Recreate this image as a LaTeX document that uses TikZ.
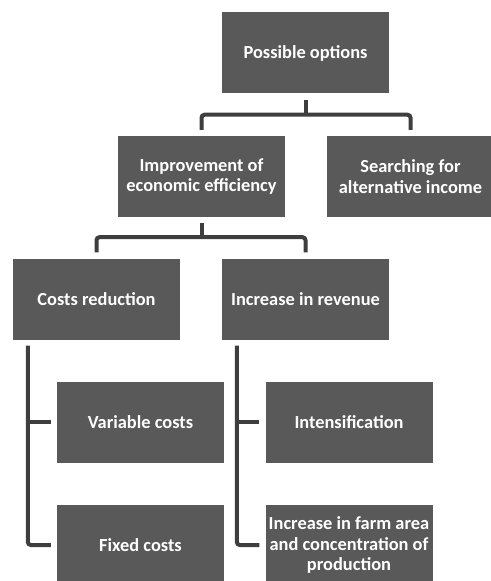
\documentclass[tikz,border=0pt]{standalone}
\usepackage{fontspec}
\setmainfont{Carlito}
\usetikzlibrary{positioning}

\definecolor{boxgray}{RGB}{89,89,89}
\definecolor{linkgray}{RGB}{62,62,62}

\tikzset{
  box/.style={fill=boxgray, text=white, minimum width=167bp, minimum height=81bp,
    inner sep=1bp, align=center,
    font=\fontsize{18.4bp}{20.5bp}\selectfont\bfseries},
  link/.style={draw=linkgray, line width=4bp, rounded corners=3bp}
}

\begin{document}
\begin{tikzpicture}[x=1bp,y=1bp]
\useasboundingbox (0,0) rectangle (491,-581);
\clip (0,0) rectangle (491,-581);

\node[box] (options) at (305.5,-53) {Possible options};
\node[box] (effic) at (201.5,-176.5) {Improvement of\\economic efficiency};
\node[box] (income) at (410.5,-176.5) {Searching for\\alternative income};
\node[box] (costs) at (96.5,-299) {Costs reduction};
\node[box] (revenue) at (305.5,-299) {Increase in revenue};
\node[box] (variable) at (140.5,-422) {Variable costs};
\node[box] (intens) at (349,-422) {Intensification};
\node[box] (fixed) at (140.5,-545) {Fixed costs};
\node[box] (farm) at (349,-545) {Increase in farm area\\and concentration of\\production};

% top level
\draw[link] ([yshift=-6bp]options.south) -- ++(0,-15) coordinate (j1);
\draw[link] ([yshift=6bp]effic.north) |- (j1) -| ([yshift=6bp]income.north);

% second level
\draw[link] ([yshift=-6bp]effic.south) -- ++(0,-14) coordinate (j2);
\draw[link] ([yshift=6bp]costs.north) |- (j2) -| ([yshift=6bp]revenue.north);

% side brackets
\draw[link] ([xshift=15bp,yshift=-6bp]costs.south west) coordinate (c1) |- ([xshift=-6bp]fixed.west);
\draw[link] ([xshift=-6bp]variable.west) -- (variable.west -| c1);
\draw[link] ([xshift=15bp,yshift=-6bp]revenue.south west) coordinate (c2) |- ([xshift=-6bp]farm.west);
\draw[link] ([xshift=-6bp]intens.west) -- (intens.west -| c2);
\end{tikzpicture}
\end{document}
